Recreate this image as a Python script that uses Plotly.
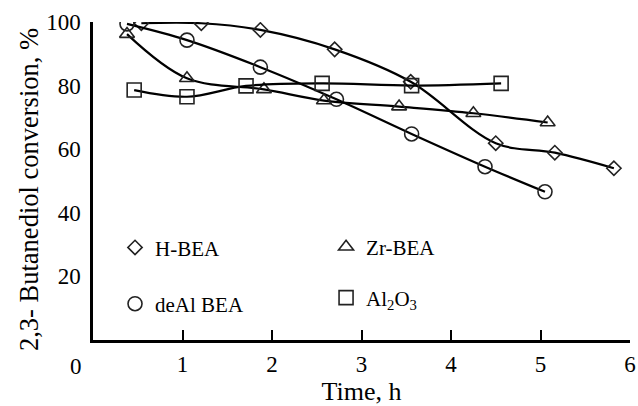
import plotly.graph_objects as go

# ---- data ----
hbea_t = [0.54, 1.21, 1.87, 2.70, 3.55, 4.50, 5.16, 5.82]
hbea_c = [99.6, 99.6, 97.5, 91.4, 81.2, 61.9, 58.9, 54.0]

deal_t = [0.38, 1.05, 1.87, 2.72, 3.56, 4.38, 5.05]
deal_c = [99.4, 94.3, 85.8, 75.7, 64.8, 54.5, 46.6]

zr_t = [0.38, 1.05, 1.91, 2.58, 3.42, 4.25, 5.08]
zr_c = [96.2, 82.3, 78.8, 75.3, 73.4, 71.3, 68.4]

al_t = [0.46, 1.05, 1.71, 2.56, 3.56, 4.56]
al_c = [78.6, 76.5, 79.9, 80.7, 80.0, 80.7]

x_tickvals = [1, 2, 3, 4, 5, 6]
x_ticktext = ["1", "2", "3", "4", "5", "6"]
origin_label = "0"
y_tickvals = [20, 40, 60, 80, 100]
x_title = "Time, h"
y_title = "2,3- Butanediol conversion, %"

series = [
    ("H-BEA", hbea_t, hbea_c, "diamond-open", 11, "legend"),
    ("deAl BEA", deal_t, deal_c, "circle-open", 14, "legend2"),
    ("Zr-BEA", zr_t, zr_c, "triangle-up-open", 13, "legend3"),
    ("Al<sub>2</sub>O<sub>3</sub>", al_t, al_c, "square-open", 14, "legend4"),
]

FONT = "Liberation Serif"
fig = go.Figure()

for name, t, c, sym, size, lg in series:
    fig.add_trace(go.Scatter(
        x=t, y=c, mode="lines+markers", name=name, showlegend=False,
        line=dict(color="black", width=2.2, shape="spline", smoothing=1.0),
        marker=dict(symbol=sym, size=size, color="#222",
                    line=dict(width=1.6, color="#222")),
    ))
    # legend-only entry (marker only)
    fig.add_trace(go.Scatter(
        x=[None], y=[None], mode="markers", name=name, legend=lg,
        marker=dict(symbol=sym, size=size, color="#222",
                    line=dict(width=1.6, color="#222")),
    ))

legend_style = dict(font=dict(family=FONT, size=21, color="black"),
                    bgcolor="rgba(0,0,0,0)", xanchor="left", yanchor="middle",
                    borderwidth=0)
fig.update_layout(
    legend=dict(x=0.041, y=0.29, **legend_style),
    legend2=dict(x=0.041, y=0.113, **legend_style),
    legend3=dict(x=0.434, y=0.292, **legend_style),
    legend4=dict(x=0.434, y=0.132, **legend_style),
)

fig.update_xaxes(
    range=[0, 6], tickvals=x_tickvals, ticktext=x_ticktext, automargin=False,
    ticks="inside", ticklen=10, tickwidth=2, tickcolor="black",
    showline=True, linecolor="black", linewidth=2.5, showgrid=False, zeroline=False,
    tickfont=dict(family=FONT, size=23, color="black"), ticklabelstandoff=2,
    title=dict(text=x_title, font=dict(family=FONT, size=26, color="black"), standoff=18),
)
fig.update_yaxes(
    range=[0, 100], tickvals=y_tickvals, ticks="", automargin=False,
    showline=True, linecolor="black", linewidth=2.5, showgrid=False, zeroline=False,
    tickfont=dict(family=FONT, size=23, color="black"), ticklabelstandoff=5,
)

fig.add_annotation(x=0, y=0, xref="x", yref="y", text=origin_label, showarrow=False,
                   xanchor="center", yanchor="middle", xshift=-17, yshift=-26,
                   font=dict(family=FONT, size=23, color="black"))
fig.add_annotation(x=0, y=0.5, xref="paper", yref="paper", text=y_title,
                   showarrow=False, textangle=-90, xanchor="center", yanchor="middle",
                   xshift=-64, yshift=-9,
                   font=dict(family=FONT, size=26.5, color="black"))

fig.update_layout(
    width=638, height=406,
    margin=dict(l=93, r=8, t=22, b=66),
    paper_bgcolor="white", plot_bgcolor="white",
)

fig.write_html("out.html", config={"displayModeBar": False},
               post_script="document.body.style.margin='0';")
